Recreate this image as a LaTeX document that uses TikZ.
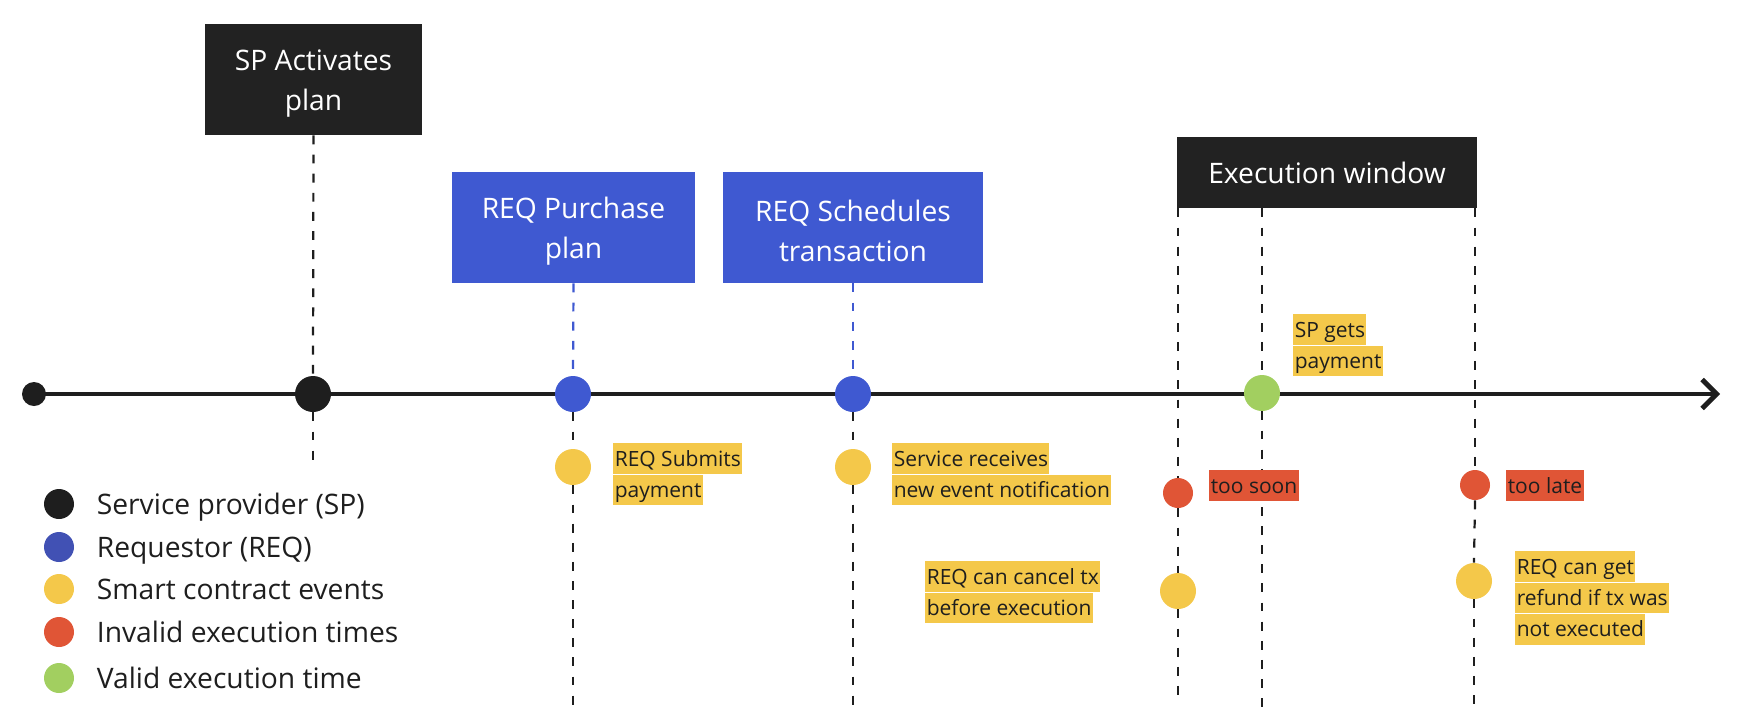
\documentclass[tikz,border=0pt]{standalone}
\usepackage{fontspec}
\setmainfont{Open Sans}
\usepackage{xcolor}
\usetikzlibrary{arrows.meta, positioning}
\definecolor{boxdark}{HTML}{222222}
\definecolor{reqblue}{HTML}{3F59D1}
\definecolor{legblue}{HTML}{4151B4}
\definecolor{evyellow}{HTML}{F4C84A}
\definecolor{evred}{HTML}{E05536}
\definecolor{evgreen}{HTML}{A2CF60}
\definecolor{ink}{HTML}{1E1E1E}
\newcommand{\boxstrut}{\rule{0pt}{13pt}}

\begin{document}
\begin{tikzpicture}[x=0.45pt, y=-0.45pt,
    actbox/.style={fill=#1, text=white, align=center, inner sep=0pt, minimum height=49.95pt,
        font=\fontsize{12.7}{18}\selectfont},
    dot/.style={circle, fill=#1, inner sep=0pt, minimum size=16.2pt},
    smalldot/.style={circle, fill=#1, inner sep=0pt, minimum size=13.5pt},
    tick/.style={dash pattern=on 4pt off 4.6pt, line width=1pt, draw=ink},
    note/.style={fill=#1, text=ink, anchor=north west, inner xsep=0.6pt, inner ysep=0pt,
        text height=10.2pt, text depth=3.5pt, font=\fontsize{9.45}{13.8}\selectfont},
    legtext/.style={text=ink, inner sep=0pt, text height=9.1pt, text depth=0pt,
        font=\fontsize{12.7}{18}\selectfont}]
    \useasboundingbox (0,0) rectangle (1738,714);

    % Event boxes
    \node[actbox=boxdark, minimum width=97.65pt] (spbox) at (313.5,79.5) {\boxstrut SP Activates\\plan};
    \node[actbox=reqblue, minimum width=109.35pt] (buybox) at (573.5,227.5) {\boxstrut REQ Purchase\\plan};
    \node[actbox=reqblue, minimum width=117pt] (schedbox) at (853,227.5) {\boxstrut REQ Schedules\\transaction};
    \node[actbox=boxdark, minimum width=135.2pt, minimum height=31.95pt] (execbox) at (1327,172.5) {Execution window};

    % Time axis
    \node[dot=ink, minimum size=10.8pt] (start) at (34,394) {};
    \coordinate (axisend) at (1720,394);
    \draw[line width=2.2pt, draw=ink, -{Straight Barb[length=6.5pt, width=13pt]}] (start.center) -- (axisend);

    % Dots on the axis
    \node[dot=ink] (spdot) at (313,394) {};
    \node[dot=reqblue] (buydot) at (573,394) {};
    \node[dot=reqblue] (scheddot) at (853,394) {};
    \node[dot=evgreen] (paiddot) at (1262,393) {};

    % Contract events below the axis
    \node[dot=evyellow] (paydot) at (573,467) {};
    \node[dot=evyellow] (notifdot) at (853,467) {};
    \node[smalldot=evred] (soondot) at (1178,493) {};
    \node[smalldot=evred] (latedot) at (1475,485) {};
    \node[dot=evyellow] (canceldot) at (1178,591) {};
    \node[dot=evyellow] (refunddot) at (1474,581) {};

    % Dashed drop lines
    \coordinate (spend) at (313,461);
    \coordinate (payend) at (573,714);
    \coordinate (notifend) at (853,714);
    \coordinate (cancelend) at (1178,704);
    \coordinate (paidend) at (1262,712);
    \coordinate (refundend) at (1474,704);
    \draw[tick] (spbox.south) -- (spdot.north);
    \draw[tick] (spdot.south) -- (spend);
    \draw[tick, draw=reqblue] (buybox.south) -- (buydot.north);
    \draw[tick] (buydot.south) -- (paydot.north);
    \draw[tick] (paydot.south) -- (payend);
    \draw[tick, draw=reqblue] (schedbox.south) -- (scheddot.north);
    \draw[tick] (scheddot.south) -- (notifdot.north);
    \draw[tick] (notifdot.south) -- (notifend);
    \draw[tick] (execbox.south -| soondot) -- (soondot.north);
    \draw[tick] (soondot.south) -- (canceldot.north);
    \draw[tick] (canceldot.south) -- (cancelend);
    \draw[tick] (execbox.south -| paiddot) -- (paiddot.north);
    \draw[tick] (paiddot.south) -- (paidend);
    \draw[tick] (execbox.south -| latedot) -- (latedot.north);
    \draw[tick] (latedot.south) -- (refunddot.north);
    \draw[tick] (refunddot.south) -- (refundend);

    % Highlighted notes
    \node[note=evyellow] (pay1) at (613,443) {REQ Submits};
    \node[note=evyellow] (pay2) at (pay1.south west) {payment};
    \node[note=evyellow] (notif1) at (892,443) {Service receives};
    \node[note=evyellow] (notif2) at (notif1.south west) {new event notification};
    \node[note=evyellow] (paid1) at (1293,314) {SP gets};
    \node[note=evyellow] (paid2) at (paid1.south west) {payment};
    \node[note=evred] (soon) at (1209,470) {too soon};
    \node[note=evred] (late) at (1506,470) {too late};
    \node[note=evyellow] (cancel1) at (925,561) {REQ can cancel tx};
    \node[note=evyellow] (cancel2) at (cancel1.south west) {before execution};
    \node[note=evyellow] (refund1) at (1515,551) {REQ can get};
    \node[note=evyellow] (refund2) at (refund1.south west) {refund if tx was};
    \node[note=evyellow] (refund3) at (refund2.south west) {not executed};

    % Legend
    \node[smalldot=ink] (legsp) at (59,504) {};
    \node[smalldot=legblue] (legreq) at (59,547) {};
    \node[smalldot=evyellow] (legev) at (59,589) {};
    \node[smalldot=evred] (legbad) at (59,632) {};
    \node[smalldot=evgreen] (legok) at (59,678) {};
    \node[legtext, right=9.9pt of legsp] {Service provider (SP)};
    \node[legtext, right=9.9pt of legreq] {Requestor (REQ)};
    \node[legtext, right=9.9pt of legev] {Smart contract events};
    \node[legtext, right=9.9pt of legbad] {Invalid execution times};
    \node[legtext, right=9.9pt of legok] {Valid execution time};
\end{tikzpicture}
\end{document}
